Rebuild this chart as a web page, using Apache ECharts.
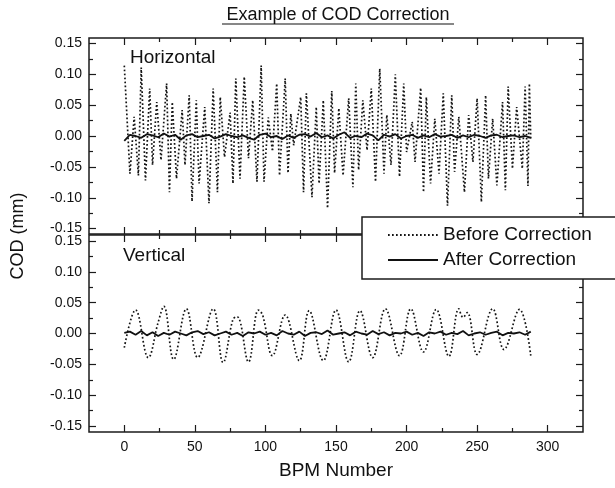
<!DOCTYPE html>
<html>
<head>
<meta charset="utf-8">
<script src="https://cdn.jsdelivr.net/npm/echarts@6/dist/echarts.min.js"></script>
<style>
  html, body { margin: 0; padding: 0; background: #fff; }
  #chart { width: 615px; height: 488px; }
</style>
</head>
<body>
<div id="chart"></div>
<script>
// horizontal plane, before correction (turning points)
const hBeforeBpm = [0, 4, 7, 10, 12, 15, 18, 20, 23, 26, 30, 32, 34, 37, 41, 43, 46, 48, 51, 53,
  57, 60, 63, 66, 68, 71, 75, 77, 79, 82, 85, 88, 91, 94, 97, 99, 102, 105, 108, 110,
  114, 116, 118, 120, 125, 127, 129, 133, 136, 138, 141, 144, 147, 149, 152, 155, 159, 162, 164, 166,
  169, 172, 175, 178, 181, 184, 186, 189, 192, 195, 198, 200, 204, 206, 210, 212, 214, 217, 220, 223,
  226, 229, 232, 234, 237, 241, 244, 247, 250, 253, 256, 258, 261, 264, 268, 270, 272, 275, 278, 282,
  284, 286, 287, 288];
const hBeforeCod = [0.114, -0.061, 0.031, -0.064, 0.111, -0.072, 0.077, -0.047, 0.055, -0.039, 0.085, -0.091, 0.055, -0.069, 0.042, -0.047, 0.066, -0.106, 0.058, -0.077,
  0.047, -0.109, 0.077, -0.091, 0.063, -0.034, 0.038, -0.077, 0.093, -0.069, 0.096, -0.036, 0.058, -0.074, 0.114, -0.074, 0.03, -0.025, 0.085, -0.064,
  0.093, -0.06, 0.036, -0.015, 0.063, -0.091, 0.069, -0.099, 0.047, -0.077, 0.058, -0.117, 0.073, -0.06, 0.045, -0.064, 0.061, -0.083, 0.085, -0.055,
  0.058, -0.023, 0.077, -0.074, 0.109, -0.061, 0.034, -0.047, 0.1, -0.066, 0.085, -0.026, 0.023, -0.042, 0.078, -0.091, 0.063, -0.077, 0.028, -0.061,
  0.069, -0.113, 0.066, -0.058, 0.031, -0.091, 0.034, -0.042, 0.061, -0.107, 0.066, -0.069, 0.028, -0.08, 0.055, -0.088, 0.08, -0.053, 0.047, -0.053,
  0.08, -0.081, 0.085, -0.005];

// vertical plane, before correction
const vBeforeBpm = [0, 8, 17, 24, 28, 35, 44, 52, 63, 70, 77, 80, 88, 95, 98, 105, 114, 124, 131, 141,
  150, 159, 167, 176, 185, 195, 203, 212, 221, 230, 237, 240, 243, 250, 261, 269, 280, 288];
const vBeforeCod = [-0.023, 0.038, -0.039, 0.018, 0.044, -0.042, 0.04, -0.039, 0.04, -0.047, 0.023, 0.027, -0.046, 0.038, 0.03, -0.036, 0.03, -0.044, 0.037, -0.044,
  0.038, -0.046, 0.037, -0.039, 0.04, -0.036, 0.04, -0.03, 0.039, -0.037, 0.04, 0.026, 0.034, -0.034, 0.04, -0.026, 0.039, -0.036];

// after correction, one reading every 4 BPMs starting at BPM 0
const afterStep = 4;
const hAfterCod = [-0.008, 0.002, 0.000, -0.003, 0.003, 0.001, -0.002, 0.004, -0.001, 0.002,
  -0.006, 0.001, 0.003, -0.002, 0.000, 0.002, -0.004, -0.001, 0.003, 0.000,
  -0.002, 0.001, -0.003, -0.006, 0.002, 0.004, -0.002, 0.000, -0.005, 0.001,
  -0.003, 0.002, 0.003, -0.001, 0.005, -0.002, 0.001, -0.004, 0.002, 0.006,
  -0.003, 0.000, -0.002, 0.004, 0.001, -0.007, 0.002, -0.001, 0.003, -0.004,
  0.000, 0.002, -0.003, 0.001, -0.002, 0.003, -0.001, 0.000, 0.002, -0.003,
  0.001, -0.002, 0.002, 0.000, -0.003, 0.001, 0.002, -0.002, 0.000, 0.001,
  -0.002, 0.000, -0.003];
const vAfterCod = [0.001, 0.003, -0.002, 0.004, -0.003, 0.002, -0.004, 0.001, -0.002, 0.003,
  0.000, -0.003, 0.002, 0.004, -0.001, 0.002, -0.003, 0.000, 0.003, -0.002,
  0.001, -0.004, 0.002, 0.000, 0.003, -0.002, 0.001, -0.003, 0.004, 0.000,
  -0.002, 0.003, -0.004, 0.001, 0.002, -0.001, 0.005, -0.002, 0.000, 0.002,
  -0.003, 0.003, 0.000, -0.002, 0.004, -0.001, 0.002, -0.003, 0.001, 0.000,
  0.003, -0.002, 0.001, -0.004, 0.002, 0.000, 0.003, -0.002, 0.001, -0.001,
  0.004, -0.003, 0.000, 0.002, -0.002, 0.001, 0.003, -0.003, 0.001, 0.000,
  0.002, -0.002, 0.003];

const majorY = [-0.15, -0.1, -0.05, 0, 0.05, 0.1, 0.15];
const minorY = [-0.125, -0.075, -0.025, 0.025, 0.075, 0.125];
const majorX = [0, 50, 100, 150, 200, 250, 300];
const minorX = [25, 75, 125, 175, 225, 275];

const ink = '#1b1b1b';
const font = '"Liberation Sans", Arial, Helvetica, sans-serif';

const zip = (xs, ys) => ys.map((y, i) => [xs[i], y]);
const steps = (ys) => ys.map((y, i) => [i * afterStep, y]);

const tickAxis = (values, len, extra, label) => ({
  type: 'value',
  axisLine: { show: false, onZero: false },
  splitLine: { show: false },
  axisTick: {
    show: true, inside: true, length: len, customValues: values,
    lineStyle: { color: ink, width: 1.2 },
  },
  axisLabel: label ? { customValues: values, color: '#111', fontSize: 14, fontFamily: font, ...label } : { show: false },
  ...extra,
});

const xAxesFor = (gridIndex, withLabels) => {
  const base = { gridIndex, min: -25, max: 325 };
  const bottom = tickAxis(majorX, 7, { ...base, position: 'bottom' },
    withLabels ? { margin: 8 } : null);
  if (withLabels) {
    Object.assign(bottom, {
      name: 'BPM Number',
      nameLocation: 'middle',
      nameGap: 29,
      nameTextStyle: { fontSize: 19, color: '#111', fontFamily: font },
    });
  }
  return [
    bottom,
    tickAxis(minorX, 4, { ...base, position: 'bottom' }),
    tickAxis(majorX, 7, { ...base, position: 'top' }),
    tickAxis(minorX, 4, { ...base, position: 'top' }),
  ];
};

const yAxesFor = (gridIndex, lim) => {
  const base = { gridIndex, min: -lim, max: lim };
  return [
    tickAxis(majorY, 7, { ...base, position: 'left' }, { margin: 7, formatter: (v) => v.toFixed(2) }),
    tickAxis(minorY, 4, { ...base, position: 'left' }),
    tickAxis(majorY, 7, { ...base, position: 'right' }),
    tickAxis(minorY, 4, { ...base, position: 'right' }),
  ];
};

const beforeStyle = { color: '#141414', width: 1.7, type: [1.7, 2.3] };
const afterStyle = { color: '#111', width: 1.8 };

const lineSeries = (name, data, axisIndex, style, smooth) => ({
  name,
  type: 'line',
  data,
  xAxisIndex: axisIndex,
  yAxisIndex: axisIndex,
  symbol: 'none',
  smooth,
  lineStyle: style,
  itemStyle: { color: style.color },
  animation: false,
});

const label = (text, x, y, size, extra = {}) => ({
  type: 'text',
  x, y,
  ...extra,
  style: { text, fontSize: size, fontFamily: font, fill: '#111', align: 'left', verticalAlign: 'middle', ...(extra.style || {}) },
});

const chart = echarts.init(document.getElementById('chart'));
chart.setOption({
  backgroundColor: '#fff',
  animation: false,
  grid: [
    { left: 89, top: 38, width: 494, height: 196, show: true, borderColor: ink, borderWidth: 1.5 },
    { left: 89, top: 235, width: 494, height: 197, show: true, borderColor: ink, borderWidth: 1.5 },
  ],
  xAxis: [...xAxesFor(0, false), ...xAxesFor(1, true)],
  yAxis: [...yAxesFor(0, 0.1587), ...yAxesFor(1, 0.1596)],
  legend: {
    data: ['Before Correction', 'After Correction'],
    orient: 'vertical',
    left: 362,
    top: 217,
    padding: [8, 40, 9, 25],
    itemWidth: 50,
    itemHeight: 14,
    itemGap: 5,
    backgroundColor: '#fff',
    borderColor: ink,
    borderWidth: 1.5,
    selectedMode: false,
    itemStyle: { opacity: 0 },
    textStyle: { fontSize: 19, color: '#111', fontFamily: font, lineHeight: 20 },
  },
  series: [
    lineSeries('Before Correction', zip(hBeforeBpm, hBeforeCod), 0, beforeStyle, false),
    lineSeries('After Correction', steps(hAfterCod), 0, afterStyle, false),
    lineSeries('Before Correction', zip(vBeforeBpm, vBeforeCod), 4, beforeStyle, 0.4),
    lineSeries('After Correction', steps(vAfterCod), 4, afterStyle, false),
  ],
  graphic: [
    label('Example of COD Correction', 338, 15, 18, { style: { align: 'center' } }),
    { type: 'line', shape: { x1: 222, y1: 24, x2: 454, y2: 24 }, style: { stroke: '#111', lineWidth: 1.2 } },
    label('Horizontal', 130, 58, 19),
    label('Vertical', 123, 256, 19),
    label('COD (mm)', 18, 236, 18, { rotation: Math.PI / 2, style: { align: 'center' } }),
  ],
});
</script>
</body>
</html>
